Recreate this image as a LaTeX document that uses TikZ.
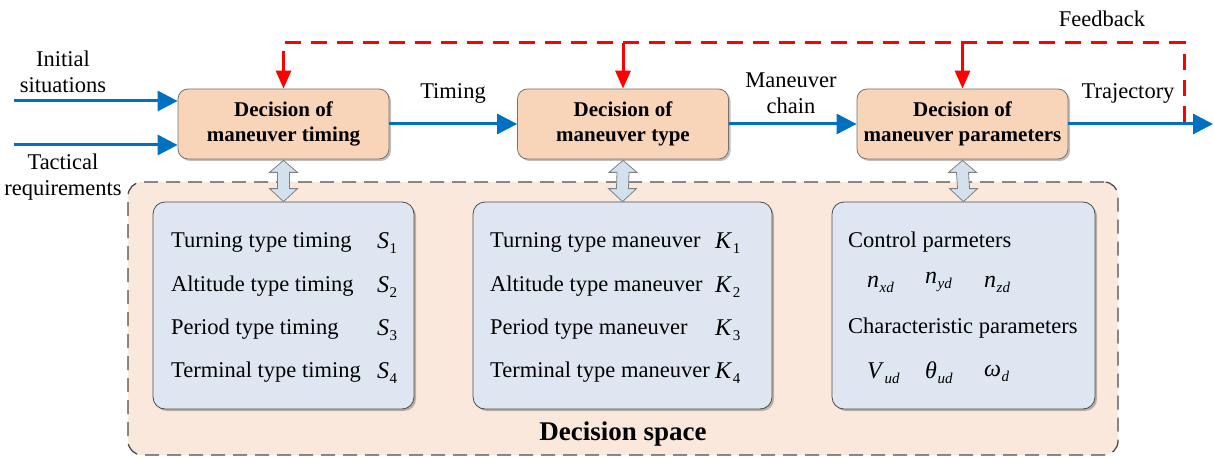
\documentclass[tikz,border=0pt]{standalone}
\usepackage{fontspec}
\setmainfont{Liberation Serif}
\usetikzlibrary{arrows.meta,shadows,calc}
\definecolor{peach}{HTML}{F8D5B9}
\definecolor{spacefill}{HTML}{FBE8DC}
\definecolor{innerfill}{HTML}{DEE7F1}
\definecolor{dblfill}{HTML}{D3E1EE}
\definecolor{lineblue}{HTML}{0070C0}
\newcommand{\vsub}[2]{\textit{#1}\kern0.5pt\raisebox{-0.45ex}{\fontsize{15}{15}\selectfont #2}}
\tikzset{
  decbox/.style={draw=black!55, line width=0.8pt, fill=peach, rounded corners=10pt,
    minimum width=211pt, minimum height=70pt, align=center,
    font=\fontsize{21}{25}\selectfont\bfseries,
    drop shadow={shadow xshift=2pt, shadow yshift=-2pt, opacity=0.25, fill=black}},
  innerbox/.style={draw=black!70, line width=0.8pt, fill=innerfill, rounded corners=12pt,
    minimum height=207pt,
    drop shadow={shadow xshift=2pt, shadow yshift=-2pt, opacity=0.25, fill=black}},
  itemtxt/.style={anchor=west, inner sep=0pt, font=\fontsize{22.5}{26}\selectfont},
  mathtxt/.style={anchor=west, inner sep=0pt, font=\fontsize{24}{26}\selectfont},
  lbl/.style={align=center, inner sep=0pt, font=\fontsize{22.5}{26}\selectfont},
  bluearrow/.style={draw=lineblue, line width=3pt, -{Triangle[length=20pt,width=20pt]}},
  redarrow/.style={draw=red, line width=3pt, -{Triangle[length=18pt,width=15pt]}},
  dblarrow/.style={draw=black!50, line width=0.8pt, fill=dblfill},
}
\begin{document}
\begin{tikzpicture}[x=1pt,y=-1pt]
\useasboundingbox (0,0) rectangle (1214,457);
% decision space
\node[draw=black!70, line width=1.3pt, dash pattern=on 14pt off 8pt, fill=spacefill,
  rounded corners=14pt, minimum width=990pt, minimum height=273pt] (space) at (623,318.5) {};
\node[font=\fontsize{27}{30}\selectfont\bfseries, inner sep=0pt] (spacelbl) at (623,434) {Decision space};
% top boxes
\node[decbox] (t1) at (283.5,124) {Decision of\\maneuver timing};
\node[decbox] (t2) at (623,124) {Decision of\\maneuver type};
\node[decbox] (t3) at (962.5,124) {Decision of\\maneuver parameters};
% inner boxes
\node[innerbox, minimum width=261pt] (a) at (283.5,305.5) {};
\node[innerbox, minimum width=299pt] (b) at (622.5,305.5) {};
\node[innerbox, minimum width=263pt] (c) at (963.5,305.5) {};
% box a text
\node[itemtxt] (a1) at (171,242) {Turning type timing};
\node[itemtxt] (a2) at (171,286) {Altitude type timing};
\node[itemtxt] (a3) at (171,329) {Period type timing};
\node[itemtxt] (a4) at (171,372) {Terminal type timing};
\node[mathtxt] (as1) at (377,243) {\vsub{S}{1}};
\node[mathtxt] (as2) at (377,287) {\vsub{S}{2}};
\node[mathtxt] (as3) at (377,330) {\vsub{S}{3}};
\node[mathtxt] (as4) at (377,373) {\vsub{S}{4}};
% box b text
\node[itemtxt] (b1) at (490,242) {Turning type maneuver};
\node[itemtxt] (b2) at (490,286) {Altitude type maneuver};
\node[itemtxt] (b3) at (490,329) {Period type maneuver};
\node[itemtxt] (b4) at (490,372) {Terminal type maneuver};
\node[mathtxt] (bk1) at (715,243) {\vsub{K}{1}};
\node[mathtxt] (bk2) at (715,287) {\vsub{K}{2}};
\node[mathtxt] (bk3) at (715,330) {\vsub{K}{3}};
\node[mathtxt] (bk4) at (715,373) {\vsub{K}{4}};
% box c text
\node[itemtxt] (c1) at (848,242) {Control parmeters};
\node[mathtxt] (cn1) at (867,284) {\vsub{n}{\itshape xd}};
\node[mathtxt] (cn2) at (925,282) {\vsub{n}{\itshape yd}};
\node[mathtxt] (cn3) at (984,284) {\vsub{n}{\itshape zd}};
\node[itemtxt] (c2) at (848,328) {Characteristic parameters};
\node[mathtxt] (cv1) at (867,373) {\vsub{V}{\itshape ud}};
\node[mathtxt] (cv2) at (925,373) {\vsub{θ}{\itshape ud}};
\node[mathtxt] (cv3) at (984,373) {\vsub{ω}{\itshape d}};
% double arrows
\foreach \top/\bot in {t1/a, t2/b, t3/c}{
  \path (\top.south) coordinate (p) (\bot.north) coordinate (q);
  \draw[dblarrow] ($(p)+(0,1)$) -- ($(p)+(14,13)$) -- ($(p)+(6,13)$) -- ($(q)+(6,-13)$)
    -- ($(q)+(14,-13)$) -- (q) -- ($(q)+(-14,-13)$) -- ($(q)+(-6,-13)$)
    -- ($(p)+(-6,13)$) -- ($(p)+(-14,13)$) -- cycle;
}
% inputs
\coordinate (in1) at (14,101);
\coordinate (in2) at (14,145);
\draw[bluearrow] (in1) -- (in1 -| t1.west);
\draw[bluearrow] (in2) -- (in2 -| t1.west);
\node[lbl] (l1) at (63,72) {Initial\\situations};
\node[lbl] (l2) at (63,177) {Tactical\\requirements};
% chain
\draw[bluearrow] (t1.east) -- (t2.west);
\draw[bluearrow] (t2.east) -- (t3.west);
\coordinate (out) at (1213,124);
\draw[bluearrow] (t3.east) -- (out);
\node[lbl] (l3) at (453,93) {Timing};
\node[lbl] (l4) at (791,93) {Maneuver\\chain};
\node[lbl] (l5) at (1128,93) {Trajectory};
\node[lbl] (l6) at (1102,19) {Feedback};
% feedback
\coordinate (f0) at (1184,122);
\coordinate (f1) at (1184,43);
\draw[draw=red, line width=3pt, dash pattern=on 16pt off 10pt]
  (f0) -- (f1) -- (f1 -| t1.north) -- ($(f1 -| t1.north)+(0,16)$);
\draw[redarrow] ($(f1 -| t1.north)+(0,14)$) -- (t1.north);
\draw[redarrow] (f1 -| t2.north) -- (t2.north);
\draw[redarrow] (f1 -| t3.north) -- (t3.north);
\end{tikzpicture}
\end{document}
